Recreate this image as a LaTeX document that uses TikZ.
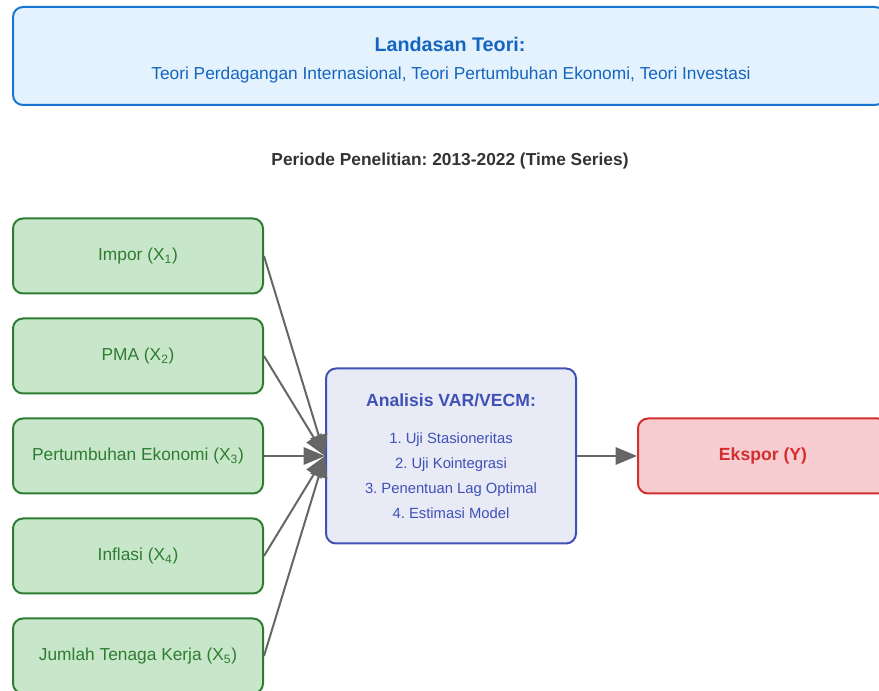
\documentclass[tikz,border=0pt]{standalone}
\usepackage{fontspec}
\setmainfont{Liberation Sans}
\usepackage{tikz}
\usetikzlibrary{arrows.meta}
\usetikzlibrary{positioning}
\frenchspacing

\definecolor{teoriline}{HTML}{1976D2}
\definecolor{teorifill}{HTML}{E3F2FD}
\definecolor{teoritext}{HTML}{1565C0}
\definecolor{varline}{HTML}{2E7D32}
\definecolor{varfill}{HTML}{C8E6C9}
\definecolor{anline}{HTML}{3F51B5}
\definecolor{anfill}{HTML}{E8EAF6}
\definecolor{yline}{HTML}{D32F2F}
\definecolor{yfill}{HTML}{F8CDD2}
\definecolor{panah}{HTML}{666666}

\begin{document}
\begin{tikzpicture}[
        x=0.75pt, y=-0.75pt,
        every node/.style={rectangle, rounded corners=7.5pt, line width=1.5pt, align=center},
        -{Triangle[length=16pt, width=13pt]}
        ]
        \tikzstyle{varbox} = [draw=varline, fill=varfill, text=varline, font=\fontsize{13}{15}\selectfont,
            minimum width=187.5pt, minimum height=56.25pt];
        \tikzstyle{arrow} = [draw=panah, line width=1.5pt];
        \useasboundingbox (0,0) rectangle (879,691);

        \node [draw=teoriline, fill=teorifill, minimum width=654pt, minimum height=73.5pt] (teori) at (449,56) {};
            \node [text=teoritext, font=\bfseries\fontsize{14.8}{17}\selectfont] (teori-judul) at (450,44) {Landasan Teori:};
            \node [text=teoritext, font=\fontsize{13}{15}\selectfont] (teori-isi) at (451,75)
                {Teori Perdagangan Internasional, Teori Pertumbuhan Ekonomi, Teori Investasi};

        \node [text=black!80, font=\bfseries\fontsize{13}{15}\selectfont] (periode) at (450,161)
            {Periode Penelitian: 2013-2022 (Time Series)};

        \node [varbox] (x1) at (138,256) {Impor (X\textsubscript{1})};
        \node [varbox] (x2) at (138,356) {PMA (X\textsubscript{2})};
        \node [varbox] (x3) at (138,456) {Pertumbuhan Ekonomi (X\textsubscript{3})};
        \node [varbox] (x4) at (138,556) {Inflasi (X\textsubscript{4})};
        \node [varbox] (x5) at (138,656) {Jumlah Tenaga Kerja (X\textsubscript{5})};

        \node [draw=anline, fill=anfill, minimum width=187.5pt, minimum height=131.25pt] (var) at (451,456) {};
            \node [text=anline, font=\bfseries\fontsize{13.2}{15}\selectfont] (var-judul) at (451,400) {Analisis VAR/VECM:};
            \node [text=anline, font=\fontsize{11.1}{18.75}\selectfont] (var-isi) at (451,476)
                {1. Uji Stasioneritas\\2. Uji Kointegrasi\\3. Penentuan Lag Optimal\\4. Estimasi Model};

        \node [draw=yline, fill=yfill, text=yline, font=\bfseries\fontsize{13.2}{15}\selectfont,
            minimum width=187.5pt, minimum height=56.25pt] (y) at (763,456) {Ekspor (Y)};

        \foreach \i in {1,...,5}
            \draw [arrow] (x\i.east) -- (var.west);
        \draw [arrow] (var.east) -- (y.west);
    \end{tikzpicture}
\end{document}
